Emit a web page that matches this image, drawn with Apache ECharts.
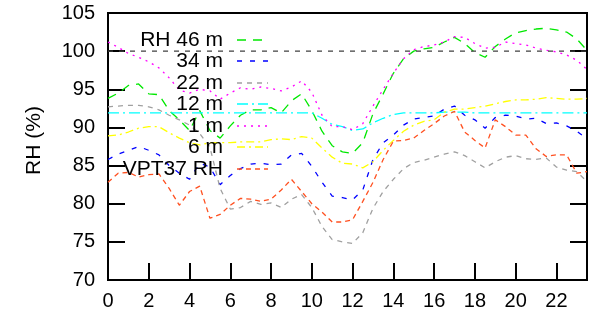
<!DOCTYPE html>
<html>
<head>
<meta charset="utf-8">
<script src="https://cdn.jsdelivr.net/npm/echarts@6/dist/echarts.min.js"></script>
<style>
  html, body { margin: 0; padding: 0; background: #fff; }
  #chart { width: 599px; height: 316px; }
</style>
</head>
<body>
<div id="chart"></div>
<script>
// hour of day (half-hour steps)
var hours = [0, 0.5, 1, 1.5, 2, 2.5, 3, 3.5, 4, 4.5, 5, 5.5, 6, 6.5, 7, 7.5, 8, 8.5, 9, 9.5,
  10, 10.5, 11, 11.5, 12, 12.5, 13, 13.5, 14, 14.5, 15, 15.5, 16, 16.5, 17, 17.5, 18, 18.5, 19, 19.5,
  20, 20.5, 21, 21.5, 22, 22.5, 23, 23.5];

// RH (%) per height
var rh46 = [93.8, 94.5, 95.5, 95.7, 94.4, 94.3, 92.2, 91.0, 89.6, 92.2, 89.6, 88.6, 90.2, 91.6, 92.3, 92.3, 92.6, 91.9, 93.5, 94.4,
  92.2, 89.5, 87.6, 86.8, 86.6, 88.0, 91.8, 94.4, 97.1, 99.0, 100.0, 100.3, 100.5, 101.2, 101.8, 101.0, 99.8, 99.2, 100.6, 101.6,
  102.4, 102.7, 102.9, 103.0, 102.8, 102.5, 101.6, 100.1];
var rh34 = [85.8, 86.5, 87.0, 87.5, 87.0, 86.4, 85.0, 84.0, 83.2, 85.3, 84.8, 82.5, 83.7, 84.6, 85.2, 85.3, 85.1, 85.2, 86.4, 86.6,
  84.9, 82.8, 81.0, 80.8, 80.5, 81.8, 85.8, 88.0, 89.0, 90.3, 91.1, 91.3, 91.5, 92.4, 92.8, 91.6, 91.0, 89.9, 91.3, 91.6,
  91.5, 91.1, 91.2, 90.5, 90.6, 90.2, 89.5, 88.5];
var rh22 = [92.7, 92.8, 92.9, 92.9, 92.7, 92.3, 91.6, 91.0, 90.3, 89.2, 87.4, 82.0, 79.3, 79.5, 80.3, 79.9, 80.1, 79.5, 80.6, 81.2,
  79.5, 77.0, 75.3, 75.0, 74.8, 76.2, 79.4, 81.6, 83.2, 84.6, 85.4, 85.7, 86.1, 86.5, 86.8, 86.3, 85.5, 84.7, 85.5, 86.1,
  86.3, 85.9, 85.8, 86.0, 84.8, 84.4, 84.2, 82.9];
var rh12 = [91.9, 91.9, 91.9, 91.9, 91.9, 91.9, 91.9, 91.9, 91.9, 91.9, 91.9, 91.9, 91.9, 91.9, 91.9, 91.9, 91.9, 91.9, 91.9, 91.9,
  91.9, 91.2, 90.4, 90.1, 89.6, 89.8, 90.6, 91.2, 91.7, 91.9, 91.9, 91.9, 91.9, 92.0, 92.0, 92.0, 91.9, 91.9, 91.9, 91.9,
  91.9, 91.9, 91.9, 91.9, 91.9, 91.9, 91.9, 91.9];
var rh1 = [101.2, 100.5, 99.7, 99.2, 98.6, 97.8, 96.5, 94.9, 94.5, 95.0, 94.8, 93.7, 94.5, 95.2, 95.0, 95.3, 95.1, 94.8, 95.3, 96.1,
  94.6, 91.6, 90.1, 90.1, 89.7, 90.5, 92.8, 95.0, 97.1, 99.0, 100.2, 100.6, 100.8, 101.2, 101.9, 101.8, 101.0, 100.4, 100.5, 101.2,
  101.0, 100.8, 100.4, 100.1, 99.9, 99.5, 98.8, 97.6];
var rh6 = [88.9, 89.0, 89.4, 89.9, 90.1, 90.1, 89.3, 88.6, 88.0, 87.7, 88.0, 88.0, 88.0, 88.1, 88.1, 88.1, 88.4, 88.5, 88.4, 88.8,
  88.6, 87.3, 86.1, 85.3, 85.2, 84.7, 85.5, 87.0, 88.3, 89.5, 90.3, 90.8, 91.0, 92.0, 92.4, 92.4, 92.6, 92.8, 93.1, 93.4,
  93.6, 93.6, 93.7, 93.9, 93.8, 93.7, 93.7, 93.8];
var vpt37 = [82.8, 84.0, 84.1, 83.5, 83.8, 83.9, 82.0, 79.8, 81.6, 82.3, 78.1, 78.6, 79.8, 80.7, 80.6, 80.3, 80.6, 81.8, 83.2, 81.6,
  80.0, 78.9, 77.6, 77.6, 77.9, 80.3, 82.8, 85.8, 88.2, 88.3, 88.6, 89.6, 90.5, 91.5, 92.1, 89.4, 88.3, 87.3, 91.0, 90.1,
  89.0, 89.0, 87.2, 86.2, 86.4, 86.4, 84.0, 84.2];

var rhSeriesLabels = ['RH 46 m', '34 m', '22 m', '12 m', '1 m', '6 m', 'VPT37 RH'];
var rhSaturation = 100;

(function () {
  var values = [rh46, rh34, rh22, rh12, rh1, rh6, vpt37];
  var lineColors = ['#00e800', '#0000ff', '#a0a0a0', '#00ffff', '#ff00ff', '#ffff00', '#ff5020'];
  var dashPatterns = [[9, 7], [5, 8], [5, 5], [11, 4, 2, 4], [2, 5], [8, 4, 2, 4], [5, 4]];
  var legendRowY = [40, 61, 83, 104, 126, 147, 169];
  var xMin = 0, xMax = 23.5;
  var fontFamily = '"Liberation Sans", Arial, sans-serif';

  var myChart = echarts.init(document.getElementById('chart'));

  function toPairs(vals) {
    return hours.map(function (h, i) { return [h, vals[i]]; });
  }

  var seriesList = rhSeriesLabels.map(function (n, i) {
    return {
      name: n,
      type: 'line',
      data: toPairs(values[i]),
      symbol: 'none',
      showSymbol: false,
      lineStyle: { color: lineColors[i], width: 1.3, type: dashPatterns[i] },
      itemStyle: { color: lineColors[i] }
    };
  });
  // saturation reference line
  seriesList.push({
    name: 'saturation',
    type: 'line',
    data: [[xMin, rhSaturation], [xMax, rhSaturation]],
    symbol: 'none',
    lineStyle: { color: '#404040', width: 1.3, type: [5, 6] }
  });

  // gnuplot style key: text right aligned, line sample to its right
  var keyElements = [];
  rhSeriesLabels.forEach(function (n, i) {
    keyElements.push({
      type: 'text',
      x: 223,
      y: legendRowY[i],
      style: {
        text: n, fill: '#000', align: 'right', verticalAlign: 'middle',
        font: '21px ' + fontFamily
      },
      z: 10
    });
    keyElements.push({
      type: 'line',
      shape: { x1: 237, y1: legendRowY[i], x2: 268, y2: legendRowY[i] },
      style: { stroke: lineColors[i], lineWidth: 1.3, lineDash: dashPatterns[i] },
      z: 10
    });
  });

  function makeAxisLine() {
    return { show: true, onZero: false, lineStyle: { color: '#000', width: 2 } };
  }
  function makeAxisTick() {
    return { show: true, inside: true, length: 17, lineStyle: { color: '#000', width: 2 } };
  }

  myChart.setOption({
    animation: false,
    backgroundColor: '#fff',
    grid: { left: 108, right: 12, top: 13, bottom: 36, show: true, borderColor: '#000', borderWidth: 2 },
    graphic: keyElements,
    xAxis: {
      type: 'value', min: xMin, max: xMax, interval: 2,
      axisLine: makeAxisLine(), axisTick: makeAxisTick(), splitLine: { show: false },
      axisLabel: { showMaxLabel: false, margin: 11, fontSize: 20, fontFamily: fontFamily, color: '#000' }
    },
    yAxis: [
      {
        type: 'value', min: 70, max: 105, interval: 5,
        axisLine: makeAxisLine(), axisTick: makeAxisTick(), splitLine: { show: false },
        name: 'RH (%)', nameLocation: 'middle', nameGap: 63, nameRotate: 90,
        nameTextStyle: { fontSize: 21, fontFamily: fontFamily, color: '#000', padding: [0, 0, 0, 12] },
        axisLabel: { margin: 13, fontSize: 20, fontFamily: fontFamily, color: '#000' }
      },
      {
        type: 'value', min: 70, max: 105, interval: 5, position: 'right',
        axisLine: makeAxisLine(), axisTick: makeAxisTick(), splitLine: { show: false },
        axisLabel: { show: false }
      }
    ],
    series: seriesList
  });
})();
</script>
</body>
</html>
